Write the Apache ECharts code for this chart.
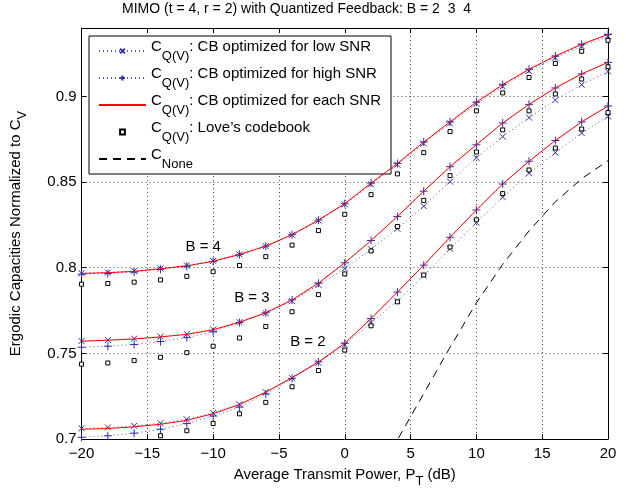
<!DOCTYPE html>
<html>
<head>
<meta charset="utf-8">
<script src="https://cdn.jsdelivr.net/npm/echarts@6/dist/echarts.min.js"></script>
<style>
	html, body { margin: 0; padding: 0; background: #fff; }
	#main { width: 632px; height: 493px; }
</style>
</head>
<body>
<div id="main"></div>
<script>
	// transmit power, dB
	var snr = [-20, -18, -16, -14, -12, -10, -8, -6, -4, -2, 0, 2, 4, 6, 8, 10, 12, 14, 16, 18, 20];

	// B = 4
	var b4Low = [0.7968, 0.7972, 0.7981, 0.7996, 0.8013, 0.8040, 0.8078, 0.8126, 0.8192, 0.8276, 0.8370, 0.8488, 0.8602, 0.8726, 0.8843, 0.8957, 0.9059, 0.9149, 0.9226, 0.9294, 0.9351];
	var b4High = [0.7962, 0.7966, 0.7975, 0.7991, 0.8009, 0.8037, 0.8077, 0.8126, 0.8193, 0.8278, 0.8374, 0.8494, 0.8609, 0.8734, 0.8852, 0.8967, 0.9069, 0.9159, 0.9236, 0.9305, 0.9362];
	var b4Each = [0.7967, 0.7971, 0.7979, 0.7994, 0.8011, 0.8038, 0.8077, 0.8126, 0.8193, 0.8278, 0.8374, 0.8494, 0.8609, 0.8734, 0.8852, 0.8967, 0.9069, 0.9159, 0.9236, 0.9305, 0.9362];
	var b4Love = [0.7904, 0.7908, 0.7916, 0.7929, 0.7950, 0.7977, 0.8013, 0.8065, 0.8132, 0.8217, 0.8312, 0.8427, 0.8548, 0.8672, 0.8795, 0.8916, 0.9021, 0.9111, 0.9193, 0.9264, 0.9328];

	// B = 3
	var b3Low = [0.7572, 0.7578, 0.7586, 0.7598, 0.7613, 0.7640, 0.7682, 0.7735, 0.7805, 0.7900, 0.7995, 0.8108, 0.8228, 0.8360, 0.8503, 0.8642, 0.8766, 0.8877, 0.8979, 0.9069, 0.9146];
	var b3High = [0.7536, 0.7542, 0.7552, 0.7569, 0.7592, 0.7626, 0.7680, 0.7737, 0.7812, 0.7910, 0.8029, 0.8159, 0.8299, 0.8447, 0.8590, 0.8718, 0.8845, 0.8954, 0.9050, 0.9132, 0.9199];
	var b3Each = [0.7571, 0.7577, 0.7584, 0.7596, 0.7611, 0.7638, 0.7682, 0.7737, 0.7812, 0.7910, 0.8029, 0.8159, 0.8299, 0.8447, 0.8590, 0.8718, 0.8845, 0.8954, 0.9050, 0.9132, 0.9199];
	var b3Love = [0.7437, 0.7444, 0.7458, 0.7477, 0.7504, 0.7542, 0.7590, 0.7657, 0.7743, 0.7843, 0.7964, 0.8098, 0.8241, 0.8393, 0.8538, 0.8676, 0.8805, 0.8916, 0.9015, 0.9102, 0.9174];

	// B = 2
	var b2Low = [0.7062, 0.7067, 0.7077, 0.7092, 0.7115, 0.7152, 0.7203, 0.7273, 0.7355, 0.7445, 0.7550, 0.7680, 0.7805, 0.7954, 0.8111, 0.8264, 0.8412, 0.8552, 0.8672, 0.8787, 0.8883];
	var b2High = [0.7010, 0.7019, 0.7034, 0.7057, 0.7090, 0.7134, 0.7186, 0.7263, 0.7354, 0.7450, 0.7559, 0.7703, 0.7858, 0.8015, 0.8178, 0.8337, 0.8489, 0.8622, 0.8743, 0.8852, 0.8944];
	var b2Each = [0.7057, 0.7061, 0.7071, 0.7086, 0.7109, 0.7148, 0.7201, 0.7274, 0.7358, 0.7450, 0.7559, 0.7703, 0.7858, 0.8015, 0.8178, 0.8337, 0.8489, 0.8622, 0.8743, 0.8852, 0.8944];
	var b2Love = [0.6987, 0.6990, 0.6998, 0.7019, 0.7048, 0.7090, 0.7147, 0.7214, 0.7305, 0.7400, 0.7519, 0.7661, 0.7801, 0.7958, 0.8121, 0.8280, 0.8433, 0.8571, 0.8699, 0.8810, 0.8906];

	// no feedback
	var noneVals = [null, null, null, null, null, null, null, null, null, null, null, 0.672, 0.6995, 0.7265, 0.7535, 0.7795, 0.802, 0.8215, 0.8385, 0.852, 0.8625];

	// text labels next to the curves [x, y, text]
	var notes = [[-12.1, 0.812, 'B = 4'], [-8.4, 0.7825, 'B = 3'], [-4.15, 0.7569, 'B = 2']];

	var FONT = '"Liberation Sans", Arial, Helvetica, sans-serif';
	var BLUE = '#2f2fa6';
	var CROSS = 'path://M0,0L10,10M10,0L0,10';
	var PLUS = 'path://M5,0L5,10M0,5L10,5';

	function pairs(arr) {
		return snr.map(function(x, i) { return [x, arr[i]]; });
	}

	var legendText = {
		low: '{m|C}{s|Q(V)}{m|: CB optimized for low SNR}',
		high: '{m|C}{s|Q(V)}{m|: CB optimized for high SNR}',
		each: '{m|C}{s|Q(V)}{m|: CB optimized for each SNR}',
		love: '{m|C}{s|Q(V)}{m|: Love\u2019s codebook}',
		none: '{m|C}{s|None}'
	};

	var series = [];
	[b4Low, b3Low, b2Low].forEach(function(arr) {
		series.push({
			name: 'low', type: 'line', data: pairs(arr),
			symbol: CROSS, symbolSize: 6,
			itemStyle: { color: BLUE, borderColor: BLUE, borderWidth: 1 },
			lineStyle: { color: BLUE, width: 1, type: [1, 3], opacity: 0.8 },
			z: 3
		});
	});
	[b4High, b3High, b2High].forEach(function(arr) {
		series.push({
			name: 'high', type: 'line', data: pairs(arr),
			symbol: PLUS, symbolSize: 8,
			itemStyle: { color: BLUE, borderColor: BLUE, borderWidth: 1 },
			lineStyle: { color: BLUE, width: 1, type: [1, 3], opacity: 0.8 },
			z: 3
		});
	});
	[b4Each, b3Each, b2Each].forEach(function(arr) {
		series.push({
			name: 'each', type: 'line', data: pairs(arr),
			symbol: 'none',
			itemStyle: { color: '#ff0000' },
			lineStyle: { color: '#ff0000', width: 1 },
			z: 4
		});
	});
	[b4Love, b3Love, b2Love].forEach(function(arr) {
		series.push({
			name: 'love', type: 'line', data: pairs(arr),
			symbol: 'rect', symbolSize: 4,
			itemStyle: { color: '#ffffff', borderColor: '#000', borderWidth: 1 },
			lineStyle: { opacity: 0 },
			z: 5
		});
	});
	series.push({
		name: 'none', type: 'line', data: pairs(noneVals),
		symbol: 'none', connectNulls: false,
		itemStyle: { color: '#000' },
		lineStyle: { color: '#000', width: 1, type: [8, 6] },
		z: 3
	});
	series.push({
		name: 'notes', type: 'scatter', data: notes,
		symbolSize: 0, silent: true,
		itemStyle: { opacity: 1 },
		label: {
			show: true, position: 'right', distance: 0,
			formatter: function(p) { return p.data[2]; },
			color: '#000', fontFamily: FONT, fontSize: 15
		}
	});

	function minus(v) {
		return String(v).replace('-', '\u2212');
	}

	var myChart = echarts.init(document.getElementById('main'));
	var option = {
		animation: false,
		backgroundColor: '#fff',
		textStyle: { fontFamily: FONT },
		title: {
			text: 'MIMO (t = 4, r = 2) with Quantized Feedback: B = 2  3  4',
			left: 117, top: -3,
			textStyle: { fontSize: 14, fontWeight: 'normal', color: '#000', fontFamily: FONT }
		},
		grid: { left: 78, right: 24, top: 28, bottom: 48 },
		legend: {
			data: [
				{ name: 'low' },
				{ name: 'high' },
				{ name: 'each', itemStyle: { opacity: 0 } },
				{ name: 'love' },
				{ name: 'none', itemStyle: { opacity: 0 } }
			],
			orient: 'vertical',
			left: 89, top: 36,
			itemWidth: 47, itemHeight: 6, itemGap: 3,
			padding: [3, 10, 3, 9],
			backgroundColor: '#fff',
			borderColor: '#000', borderWidth: 1,
			selectedMode: false,
			formatter: function(name) { return legendText[name]; },
			textStyle: {
				color: '#000',
				rich: {
					m: { fontSize: 15, fontFamily: FONT, color: '#000', lineHeight: 24, verticalAlign: 'top' },
					s: { fontSize: 13, fontFamily: FONT, color: '#000', lineHeight: 24, verticalAlign: 'bottom' }
				}
			}
		},
		xAxis: [{
			type: 'value', min: -20, max: 20, interval: 5,
			name: 'Average Transmit Power, P{s|T} (dB)',
			nameLocation: 'middle', nameGap: 23,
			nameTextStyle: {
				color: '#000',
				rich: {
					s: { fontSize: 13, fontFamily: FONT, padding: [13, 0, 0, 0] }
				},
				fontSize: 15, fontFamily: FONT
			},
			axisLine: { onZero: false, lineStyle: { color: '#000', width: 1 } },
			axisTick: { inside: true, length: 5, lineStyle: { color: '#000' } },
			axisLabel: { color: '#000', fontSize: 15, fontFamily: FONT, margin: 7, formatter: minus },
			splitLine: { show: true, lineStyle: { color: '#444', width: 1, type: [1, 3] } }
		}, {
			type: 'value', min: -20, max: 20, interval: 5, position: 'top',
			axisLine: { onZero: false, lineStyle: { color: '#000', width: 1 } },
			axisTick: { inside: true, length: 5, lineStyle: { color: '#000' } },
			axisLabel: { show: false },
			splitLine: { show: false }
		}],
		yAxis: [{
			type: 'value', min: 0.7, max: 0.94, interval: 0.05,
			name: 'Ergodic Capacities Normalized to C{s|V}',
			nameLocation: 'middle', nameGap: 53,
			nameTextStyle: {
				color: '#000',
				rich: {
					s: { fontSize: 13, fontFamily: FONT, padding: [13, 0, 0, 0] }
				},
				fontSize: 15, fontFamily: FONT
			},
			axisLine: { show: true, onZero: false, lineStyle: { color: '#000', width: 1 } },
			axisTick: { show: true, inside: true, length: 5, lineStyle: { color: '#000' } },
			axisLabel: { color: '#000', fontSize: 15, fontFamily: FONT, margin: 5, showMaxLabel: false },
			splitLine: { show: true, lineStyle: { color: '#444', width: 1, type: [1, 3] } }
		}, {
			type: 'value', min: 0.7, max: 0.94, interval: 0.05, position: 'right',
			axisLine: { show: true, onZero: false, lineStyle: { color: '#000', width: 1 } },
			axisTick: { show: true, inside: true, length: 5, lineStyle: { color: '#000' } },
			axisLabel: { show: false },
			splitLine: { show: false }
		}],
		series: series
	};
	myChart.setOption(option);
</script>
</body>
</html>
